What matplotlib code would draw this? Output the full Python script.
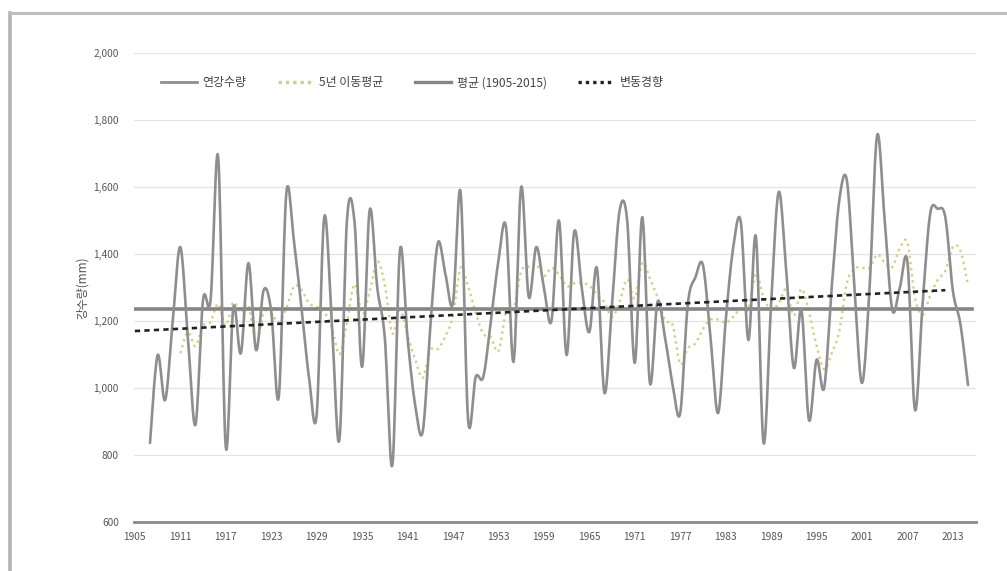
import numpy as np
import pandas as pd
import matplotlib
matplotlib.use("Agg")
import matplotlib.pyplot as plt
from matplotlib.lines import Line2D

plt.rcParams['font.family'] = ['Noto Sans CJK KR', 'DejaVu Sans']

# ---------------- data ----------------
years = list(range(1907, 2016))
annual_precip = [
    836, 1098, 964, 1200, 1421, 1150, 890, 1263, 1263, 1690,      # 1907-1916
    824, 1240, 1104, 1373, 1113, 1292, 1230, 973, 1582, 1440,      # 1917-1926
    1240, 1030, 919, 1510, 1200, 845, 1500, 1496, 1063, 1531,      # 1927-1936
    1300, 1150, 770, 1412, 1150, 950, 869, 1180, 1433, 1340,       # 1937-1946
    1254, 1585, 904, 1033, 1033, 1200, 1380, 1481, 1078, 1600,     # 1947-1956
    1272, 1421, 1300, 1200, 1500, 1098, 1466, 1300, 1167, 1358,    # 1957-1966
    985, 1250, 1530, 1500, 1075, 1510, 1015, 1257, 1150, 1010,     # 1967-1976
    925, 1250, 1330, 1367, 1150, 925, 1200, 1420, 1496, 1143,      # 1977-1986
    1451, 836, 1250, 1585, 1350, 1060, 1233, 904, 1084, 1000,      # 1987-1996
    1300, 1560, 1620, 1300, 1015, 1300, 1755, 1500, 1233, 1300,    # 1997-2006
    1376, 934, 1250, 1520, 1535, 1510, 1290, 1190, 1009,           # 2007-2015
]
mean_value = 1235            # 평균 (1905-2015)
trend_years = [1905, 2012]   # 변동경향 end points
trend_values = [1170, 1292]
mean_years = [1905, 2015.5]

xtick_years = list(range(1905, 2014, 6))
ytick_values = [600, 800, 1000, 1200, 1400, 1600, 1800, 2000]

legend_labels = ['연강수량', '5년 이동평균', '평균 (1905-2015)', '변동경향']
ylabel = '강수량(mm)'

# ---------------- helpers ----------------
def excel_smooth(x, y, n=14):
    x = np.asarray(x, float)
    y = np.asarray(y, float)
    P = np.column_stack([x, y])
    out = []
    m = len(P)
    for i in range(m - 1):
        p0 = P[i - 1] if i > 0 else P[i]
        p1 = P[i]
        p2 = P[i + 1]
        p3 = P[i + 2] if i + 2 < m else P[i + 1]
        c1 = p1 + (p2 - p0) / 6.0
        c2 = p2 - (p3 - p1) / 6.0
        t = np.linspace(0, 1, n, endpoint=(i == m - 2))[:, None]
        seg = ((1 - t) ** 3) * p1 + 3 * ((1 - t) ** 2) * t * c1 + 3 * (1 - t) * t ** 2 * c2 + t ** 3 * p2
        out.append(seg)
    out = np.vstack(out)
    return out[:, 0], out[:, 1]

# ---------------- figure ----------------
W, H = 1007, 571
fig = plt.figure(figsize=(W / 100, H / 100), dpi=100)
fig.patch.set_facecolor('white')

ax_l, ax_r, ax_t, ax_b = 134.1, 975.6, 53, 522
ax = fig.add_axes([ax_l / W, 1 - ax_b / H, (ax_r - ax_l) / W, (ax_b - ax_t) / H])

ax.set_xlim(1904.9, 2016.0)
ax.set_ylim(600, 2000)

# grid
for v in ytick_values[1:]:
    ax.axhline(v, color='#e3e3e3', lw=0.9, zorder=0)

# series
s = pd.Series(annual_precip, index=years, dtype=float)
ma = s.rolling(5).mean().dropna()

xs, ys = excel_smooth(years, annual_precip)
ax.plot(xs, ys, color='#8e8e8e', lw=1.9, zorder=3, solid_capstyle='round')

mx, my = excel_smooth(ma.index.values, ma.values)
ax.plot(mx, my, color='#cdd283', lw=1.7, linestyle=(0, (1.0, 1.6)), zorder=2)

ax.plot(mean_years, [mean_value, mean_value], color='#858585', lw=2.6, zorder=2)
ax.plot(trend_years, trend_values, color='#222222', lw=1.9, linestyle=(0, (2.0, 1.6)), zorder=4)

# axes styling
for side in ['left', 'right', 'top']:
    ax.spines[side].set_visible(False)
ax.spines['bottom'].set_color('#8a8a8a')
ax.spines['bottom'].set_linewidth(2.0)

ax.set_yticks(ytick_values)
ax.set_yticklabels([f'{v:,}' for v in ytick_values])
ax.set_xticks(xtick_years)
ax.set_xticklabels([str(y) for y in xtick_years])
ax.tick_params(axis='both', length=0, labelsize=7.3, colors='#555555')
ax.tick_params(axis='y', pad=11)
ax.tick_params(axis='x', pad=7)

ax.set_ylabel(ylabel, fontsize=8.5, color='#505050', labelpad=3)

# legend
handles = [
    Line2D([], [], color='#8e8e8e', lw=2.0),
    Line2D([], [], color='#cdd283', lw=2.4, linestyle=(0, (1.0, 1.2))),
    Line2D([], [], color='#858585', lw=2.4),
    Line2D([], [], color='#222222', lw=2.4, linestyle=(0, (1.0, 1.2))),
]
leg = fig.legend(handles, legend_labels, loc='center left',
                 bbox_to_anchor=(150 / W, 1 - 83 / H), ncol=4, frameon=False,
                 fontsize=8.6, handlelength=3.0, handletextpad=0.5,
                 columnspacing=2.6, labelcolor='#444444')

# outer frame
fig.add_artist(Line2D([10 / W, 10 / W], [0, 1 - 13 / H], transform=fig.transFigure,
                      color='#b3b3b3', lw=2.6))
fig.add_artist(Line2D([10 / W, 1.0], [1 - 13 / H, 1 - 13 / H], transform=fig.transFigure,
                      color='#bdbdbd', lw=2.2))

fig.savefig('out.png', dpi=100, facecolor='white')
